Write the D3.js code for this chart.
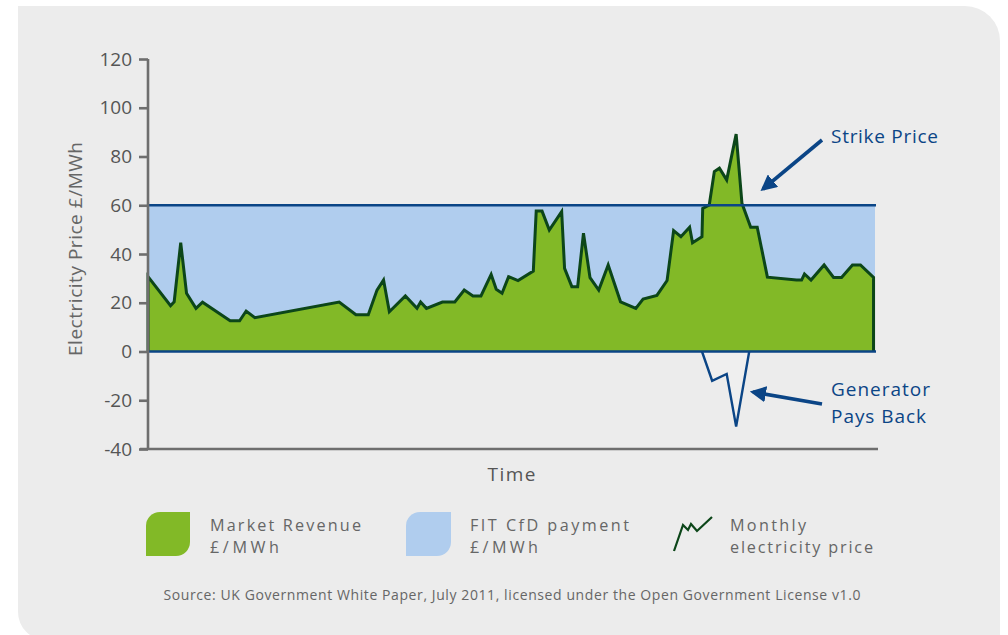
<!DOCTYPE html>
<html><head><meta charset="utf-8">
<script src="https://cdn.jsdelivr.net/npm/d3@7"></script>
<style>
body{margin:0;background:#fff;}
text{font-family:"Open Sans",sans-serif;}
</style>
</head><body>
<svg id="c" width="1008" height="635"></svg>
<script>
// ---- data ----
const time = [0,3.1,3.6,4.5,5.3,6.6,7.5,11.3,12.6,13.5,14.7,26.3,28.6,30.3,31.5,32.4,33.2,35.4,37.0,37.5,38.3,40.5,42.2,43.5,44.7,45.8,47.2,47.9,48.7,49.6,50.9,53.0,53.4,54.2,55.2,56.9,57.3,58.3,59.1,59.9,60.8,62.0,63.3,65.0,67.1,68.1,70.0,71.4,72.3,73.3,74.5,74.9,76.2,76.3,77.2,77.9,78.6,79.6,80.9,81.7,82.9,83.8,85.2,89.2,89.9,90.3,91.2,93.0,94.3,95.4,96.9,98.0,99.8];
const price = [30.7,18.8,20.4,44.6,23.9,17.7,20.2,12.6,12.6,16.6,13.9,20.3,15.1,15.1,25.2,29.3,16.3,22.8,17.7,20.3,17.7,20.3,20.3,25.2,22.8,22.8,31.6,25.5,23.9,30.7,29.1,33.0,57.6,57.6,49.8,57.4,34.1,26.6,26.6,48.5,30.3,25.2,35.5,20.4,17.7,21.5,23.0,29.1,49.6,47.1,51.0,44.6,47.1,58.7,60.1,73.8,75.2,70.4,89.2,60.8,51.0,51.0,30.5,29.3,29.3,31.8,29.3,35.5,30.4,30.4,35.5,35.5,30.4];
const paybackTime = [76.2,77.6,79.6,80.9,82.7];
const paybackValue = [0,-12,-9.2,-30.8,0];
const strikePrice = 60;
const yTicks = [-40,-20,0,20,40,60,80,100,120];
const timeDomain = [0,100];
const yTitle = "Electricity Price £/MWh";
const xTitle = "Time";
const legendLabels = [["Market Revenue","£/MWh"],["FIT CfD payment","£/MWh"],["Monthly","electricity price"]];
const sourceText = "Source: UK Government White Paper, July 2011, licensed under the Open Government License v1.0";

// ---- styles ----
const C = {bg:"#ececec", green:"#82b927", dkgreen:"#0c4619", blue:"#b0cdee", dkblue:"#0b4586", axis:"#6e6e6e", tick:"#555", text:"#666"};

const svg = d3.select("#c");
svg.append("path")
  .attr("d","M18,6 H965 A35,35 0 0 1 1000,41 V640 H46 A28,28 0 0 1 18,612 Z")
  .attr("fill",C.bg);

const x = d3.scaleLinear().domain(timeDomain).range([148,875]);
const y = d3.scaleLinear().domain([-40,120]).range([449,59]);

const series = time.map((t,i)=>({t, v:price[i]}));
const payback = paybackTime.map((t,i)=>({t, v:paybackValue[i]}));

svg.append("path")
  .attr("d", d3.area().x(d=>x(d)).y0(y(0)).y1(y(strikePrice))(timeDomain))
  .attr("fill", C.blue);

svg.append("path")
  .attr("d", d3.area().x(d=>x(d.t)).y0(y(0)).y1(d=>y(d.v))(series))
  .attr("fill", C.green);

svg.append("path")
  .attr("d", d3.area().x(d=>x(d.t)).y0(y(0)).y1(d=>y(d.v))(payback))
  .attr("fill", "#efefef");

const linePts = [{t:time[0],v:0}, ...series, {t:time[time.length-1],v:0}];
svg.append("path")
  .attr("d", d3.line().x(d=>x(d.t)).y(d=>y(d.v))(linePts))
  .attr("fill","none").attr("stroke",C.dkgreen).attr("stroke-width",3).attr("stroke-linejoin","miter");

svg.append("path")
  .attr("d", d3.line().x(d=>x(d.t)).y(d=>y(d.v))(payback))
  .attr("fill","none").attr("stroke",C.dkblue).attr("stroke-width",2.4);

[strikePrice, 0].forEach(v=>{
  svg.append("line").attr("x1",x(timeDomain[0])).attr("x2",x(timeDomain[1])+1)
    .attr("y1",y(v)).attr("y2",y(v)).attr("stroke",C.dkblue).attr("stroke-width",2.6);
});

const yAxis = svg.append("g").attr("transform",`translate(${x(0)},0)`)
  .call(d3.axisLeft(y).tickValues(yTicks).tickFormat(d=>String(d)).tickSize(9).tickPadding(7));
yAxis.select(".domain").attr("stroke",C.axis).attr("stroke-width",2.6).attr("d",`M0,${y(120)}V${y(-40)}`);
yAxis.selectAll(".tick line").attr("stroke",C.axis).attr("stroke-width",2.6);
yAxis.selectAll(".tick text").attr("fill",C.tick).style("font-size","19px").style("font-family","'Open Sans',sans-serif");

svg.append("line").attr("x1",140).attr("x2",878).attr("y1",y(-40)).attr("y2",y(-40))
  .attr("stroke",C.axis).attr("stroke-width",2.6);

function txt(xp, yp, s, size, fill, len, anchor){
  const t = svg.append("text").attr("x",xp).attr("y",yp).attr("fill",fill).style("font-size",size+"px").text(s);
  if(len) t.attr("textLength",len).attr("lengthAdjust","spacing");
  if(anchor) t.attr("text-anchor",anchor);
  return t;
}

svg.append("text").attr("transform",`translate(82,249) rotate(-90)`)
  .attr("text-anchor","middle").attr("fill",C.text).style("font-size","19px")
  .attr("textLength",214).attr("lengthAdjust","spacing").text(yTitle);
txt((x(0)+x(100))/2, 481, xTitle, 19, "#555", 48, "middle");

const defs = svg.append("defs");
defs.append("marker").attr("id","ah").attr("viewBox","0 0 10 10").attr("refX",8).attr("refY",5)
  .attr("markerWidth",4.5).attr("markerHeight",4.5).attr("orient","auto").attr("markerUnits","strokeWidth")
  .append("path").attr("d","M0,0 L10,5 L0,10 Z").attr("fill",C.dkblue);

svg.append("line").attr("x1",822).attr("y1",140).attr("x2",763).attr("y2",189)
  .attr("stroke",C.dkblue).attr("stroke-width",3.6).attr("marker-end","url(#ah)");
svg.append("line").attr("x1",822).attr("y1",404).attr("x2",753).attr("y2",392)
  .attr("stroke",C.dkblue).attr("stroke-width",3.6).attr("marker-end","url(#ah)");

txt(831,143,"Strike Price",19,C.dkblue,107).style("font-weight",500);
const gp = svg.append("text").attr("fill",C.dkblue).style("font-size","19px").style("font-weight",500);
gp.append("tspan").attr("x",831).attr("y",396).attr("textLength",99).attr("lengthAdjust","spacing").text("Generator");
gp.append("tspan").attr("x",831).attr("y",423).attr("textLength",95).attr("lengthAdjust","spacing").text("Pays Back");

function leaf(x0,y0,w,h,r,fill){
  svg.append("path").attr("d",
    `M${x0},${y0+r} A${r},${r} 0 0 1 ${x0+r},${y0} H${x0+w} V${y0+h-r} A${r},${r} 0 0 1 ${x0+w-r},${y0+h} H${x0} Z`)
    .attr("fill",fill);
}
leaf(146,512,44,44,14,C.green);
leaf(406,512,45,44,14,C.blue);
svg.append("path").attr("d","M674,551 L683,525 L688,530 L691,524 L697,531 L712,517")
  .attr("fill","none").attr("stroke",C.dkgreen).attr("stroke-width",2.2);

const legX = [210,470,730];
const legLen = [[151,69],[159,68],[76,143]];
legendLabels.forEach((lines,i)=>{
  lines.forEach((s,j)=>txt(legX[i], 530.5 + j*22.5, s, 16.2, C.text, legLen[i][j]));
});

txt(512,600,sourceText,14,C.text,697,"middle");
</script>
</body></html>
